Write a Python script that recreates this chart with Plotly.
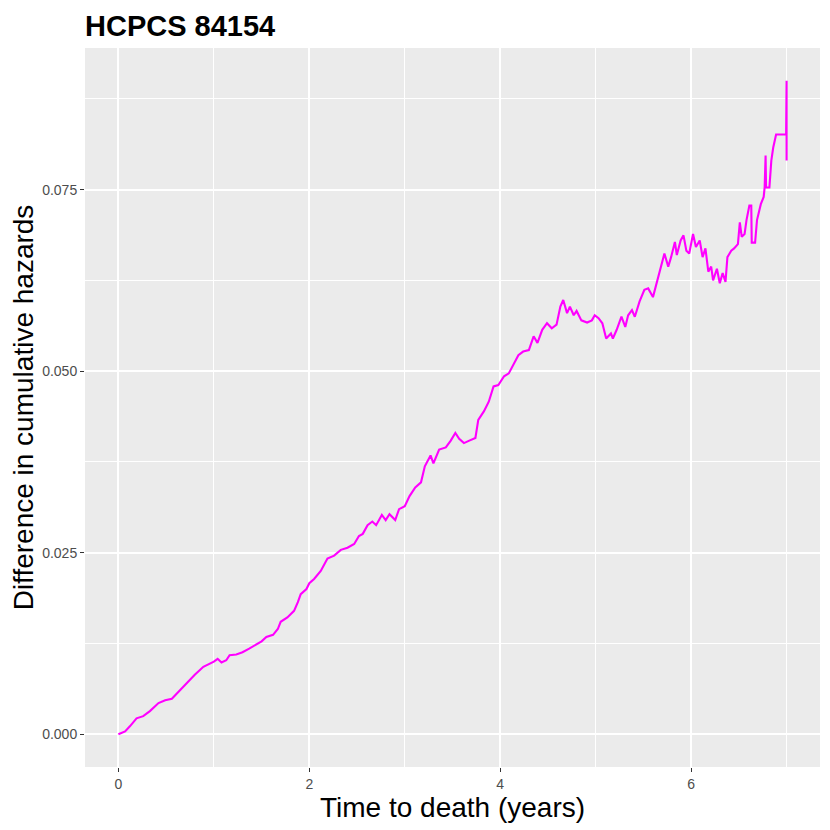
import plotly.graph_objects as go

time_years = [0.0, 0.07, 0.12, 0.19, 0.26, 0.33, 0.42, 0.49, 0.56, 0.63, 0.71, 0.80, 0.89, 0.96, 1.00,
              1.04, 1.08, 1.13, 1.165, 1.235, 1.30, 1.37, 1.44, 1.50, 1.55, 1.62, 1.67, 1.70, 1.77, 1.84,
              1.88, 1.91, 1.97, 2.00, 2.05, 2.12, 2.19, 2.26, 2.33, 2.40, 2.47, 2.52, 2.56, 2.61, 2.66,
              2.70, 2.76, 2.80, 2.84, 2.90, 2.94, 3.00, 3.05, 3.11, 3.17, 3.21, 3.27, 3.30, 3.36, 3.43,
              3.48, 3.53, 3.57, 3.62, 3.67, 3.74, 3.77, 3.83, 3.88, 3.93, 3.98, 4.04, 4.09, 4.14, 4.19,
              4.24, 4.30, 4.35, 4.39, 4.44, 4.49, 4.54, 4.59, 4.63, 4.66, 4.70, 4.73, 4.77, 4.80, 4.85,
              4.91, 4.96, 4.99, 5.03, 5.07, 5.11, 5.16, 5.18, 5.22, 5.27, 5.31, 5.34, 5.38, 5.41, 5.46,
              5.51, 5.55, 5.60, 5.64, 5.67, 5.72, 5.76, 5.79, 5.83, 5.85, 5.89, 5.92, 5.95, 5.98, 6.02,
              6.05, 6.09, 6.12, 6.15, 6.18, 6.21, 6.23, 6.27, 6.30, 6.33, 6.36, 6.38, 6.42, 6.45, 6.49,
              6.51, 6.53, 6.56, 6.58, 6.61, 6.63, 6.635, 6.67, 6.69, 6.71, 6.73, 6.76, 6.77, 6.78, 6.785,
              6.82, 6.84, 6.86, 6.89, 6.995, 7.00, 7.00]

diff_cumhaz = [0.0000, 0.0004, 0.0011, 0.0022, 0.0025, 0.0032, 0.0043, 0.0047, 0.0049, 0.0059, 0.0070,
               0.0082, 0.0093, 0.0097, 0.0100, 0.0104, 0.0099, 0.0102, 0.0109, 0.0110, 0.0113, 0.0118,
               0.0123, 0.0128, 0.0134, 0.0137, 0.0145, 0.0155, 0.0161, 0.0170, 0.0182, 0.0193, 0.0200,
               0.0208, 0.0214, 0.0225, 0.0242, 0.0246, 0.0254, 0.0257, 0.0262, 0.0273, 0.0276, 0.0288,
               0.0293, 0.0288, 0.0302, 0.0295, 0.0303, 0.0295, 0.0310, 0.0314, 0.0328, 0.0340, 0.0347,
               0.0369, 0.0384, 0.0373, 0.0392, 0.0395, 0.0404, 0.0415, 0.0407, 0.0401, 0.0404, 0.0408,
               0.0433, 0.0445, 0.0458, 0.0479, 0.0481, 0.0493, 0.0497, 0.0509, 0.0522, 0.0527, 0.0529,
               0.0548, 0.0539, 0.0557, 0.0566, 0.0559, 0.0564, 0.0589, 0.0598, 0.0580, 0.0589, 0.0577,
               0.0583, 0.0570, 0.0567, 0.0570, 0.0577, 0.0573, 0.0566, 0.0545, 0.0552, 0.0545, 0.0557,
               0.0575, 0.0561, 0.0577, 0.0584, 0.0575, 0.0596, 0.0612, 0.0614, 0.0602, 0.0623, 0.0637,
               0.0662, 0.0644, 0.0657, 0.0678, 0.0660, 0.0680, 0.0687, 0.0666, 0.0662, 0.0689, 0.0671,
               0.0680, 0.0657, 0.0669, 0.0637, 0.0644, 0.0625, 0.0641, 0.0621, 0.0635, 0.0623, 0.0657,
               0.0666, 0.0669, 0.0675, 0.0705, 0.0685, 0.0689, 0.0708, 0.0728, 0.0728, 0.0677, 0.0677,
               0.0708, 0.0719, 0.0730, 0.0740, 0.0753, 0.0797, 0.0753, 0.0753, 0.0790, 0.0808, 0.0826,
               0.0826, 0.0900, 0.0790]

x_ticks = [0, 2, 4, 6]
y_ticks = [0.0, 0.025, 0.05, 0.075]
title_text = "HCPCS 84154"
x_title = "Time to death (years)"
y_title = "Difference in cumulative hazards"

FONT = "Liberation Sans, Arial, sans-serif"

fig = go.Figure()
fig.add_trace(go.Scatter(
    x=time_years, y=diff_cumhaz, mode="lines",
    line=dict(color="#FF00FF", width=2.1),
    showlegend=False, hoverinfo="skip",
))

# page body has an 8px margin, so the figure is offset by 8px right/down
fig.update_layout(
    width=830, height=830,
    margin=dict(l=77, r=18, t=40, b=71),
    paper_bgcolor="white",
    plot_bgcolor="#EBEBEB",
    font=dict(family=FONT, color="black"),
    title=dict(text="<b>" + title_text + "</b>", x=77 / 830, xref="container", xanchor="left",
               y=1 - 8 / 830, yref="container", yanchor="top", pad=dict(t=0, b=0, l=0, r=0),
               font=dict(size=29, color="black", family=FONT)),
)

fig.update_xaxes(
    range=[-0.35, 7.35], tickvals=x_ticks, ticktext=[str(v) for v in x_ticks],
    showgrid=True, gridcolor="white", gridwidth=1.5, zeroline=False,
    minor=dict(dtick=1, tick0=1, showgrid=True, gridcolor="white", gridwidth=0.75),
    ticks="outside", ticklen=4, tickwidth=1.1, tickcolor="#333333",
    tickfont=dict(size=14, color="#4D4D4D", family=FONT),
    title=dict(text=x_title, font=dict(size=28, color="black", family=FONT), standoff=4),
    showline=False, automargin=False,
)
fig.update_yaxes(
    range=[-0.0045, 0.0945], tickvals=y_ticks, ticktext=["%.3f" % v for v in y_ticks],
    showgrid=True, gridcolor="white", gridwidth=1.5, zeroline=False,
    minor=dict(dtick=0.025, tick0=0.0125, showgrid=True, gridcolor="white", gridwidth=0.75),
    ticks="outside", ticklen=4, tickwidth=1.1, tickcolor="#333333",
    tickfont=dict(size=14, color="#4D4D4D", family=FONT),
    title=dict(text=y_title, font=dict(size=28, color="black", family=FONT), standoff=2),
    showline=False, automargin=False,
)

fig.write_html("out.html")
